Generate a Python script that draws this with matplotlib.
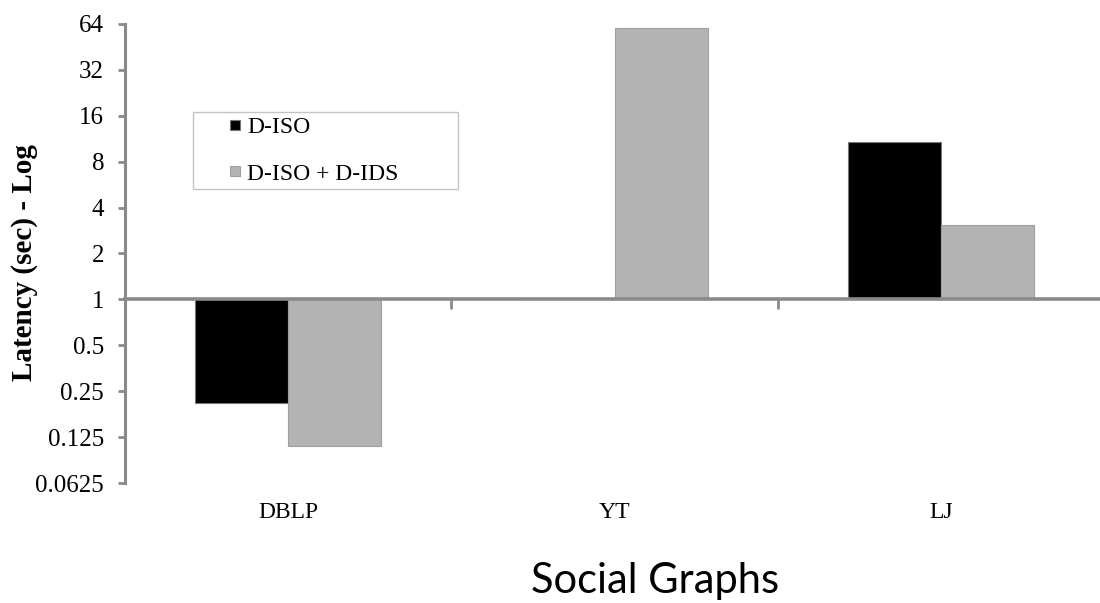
import numpy as np
import matplotlib
matplotlib.use("Agg")
import matplotlib.pyplot as plt
from matplotlib.patches import Rectangle
from matplotlib.legend_handler import HandlerPatch

graphs = ["DBLP", "YT", "LJ"]
d_iso = [0.208, 1.0, 10.7]
d_iso_ids = [0.109, 60.0, 3.06]
series_names = ["D-ISO", "D-ISO + D-IDS"]
y_ticks = [0.0625, 0.125, 0.25, 0.5, 1, 2, 4, 8, 16, 32, 64]
y_tick_labels = ["0.0625", "0.125", "0.25", "0.5", "1", "2", "4", "8", "16", "32", "64"]

AXIS_GREY = "#8a8a8a"
BAR_GREY = "#b3b3b3"
SERIF = "Liberation Serif"


def small_square(legend, orig_handle, xdescent, ydescent, width, height, fontsize):
    # little square pushed to the right edge of the handle box
    s = 0.42 * fontsize
    return Rectangle((width - xdescent - s, -ydescent + (height - s) / 2), s, s)


fig = plt.figure(figsize=(11, 6.03), dpi=100)
ax = fig.add_axes([125 / 1100, 1 - 483 / 603, 979 / 1100, 459 / 603])

x = np.arange(len(graphs))
w = 0.285
base = 1.0
ax.set_yscale("log", base=2)
ax.set_ylim(y_ticks[0], y_ticks[-1])
ax.set_xlim(-0.5, len(graphs) - 0.5)

b1 = ax.bar(x - w / 2, np.array(d_iso) - base, w, bottom=base, color="black",
            edgecolor="#777777", linewidth=0.8, zorder=1)
b2 = ax.bar(x + w / 2, np.array(d_iso_ids) - base, w, bottom=base, color=BAR_GREY,
            edgecolor="#a0a0a0", linewidth=0.8, zorder=1)

# y axis
ax.set_yticks(y_ticks)
ax.set_yticklabels(y_tick_labels)
ax.yaxis.set_minor_locator(matplotlib.ticker.NullLocator())
ax.tick_params(axis="y", length=5, width=2, color=AXIS_GREY, pad=10,
               labelsize=18)
for lab in ax.get_yticklabels():
    lab.set_family(SERIF)

for side in ["top", "right", "bottom"]:
    ax.spines[side].set_visible(False)
ax.spines["left"].set_color(AXIS_GREY)
ax.spines["left"].set_linewidth(2.2)

# category labels sit under the plot area
ax.set_xticks(x)
ax.set_xticklabels(graphs)
ax.tick_params(axis="x", length=0, pad=14, labelsize=17)
for lab in ax.get_xticklabels():
    lab.set_family(SERIF)

# baseline at y = 1 with separator ticks between groups
ymin, ymax = ax.get_ylim()
base_loc = np.log2(base / ymin) / np.log2(ymax / ymin)
sec = ax.secondary_xaxis(base_loc)
sec.set_zorder(3)
sec.set_xticks(x[:-1] + 0.5)
sec.tick_params(length=7, width=2, color=AXIS_GREY, labelbottom=False)
sec.spines["bottom"].set_color(AXIS_GREY)
sec.spines["bottom"].set_linewidth(2.6)

leg = ax.legend([b1.patches[0], b2.patches[0]], series_names,
                loc="upper left", bbox_to_anchor=(0.0695, 0.0, 0.2707, 0.808),
                mode="expand", ncol=1, prop={"family": SERIF, "size": 17},
                frameon=True, fancybox=False, framealpha=1, edgecolor="#c4c4c4",
                borderpad=0.2, labelspacing=1.05, handlelength=1.8,
                handletextpad=0.3, borderaxespad=0,
                handler_map={Rectangle: HandlerPatch(patch_func=small_square)})
leg.get_frame().set_linewidth(1.0)
leg.set_zorder(5)

fig.text(25 / 1100, 1 - 263 / 603, "Latency (sec) - Log", rotation=90,
         ha="center", va="center", family=SERIF, weight="bold", fontsize=21)
fig.text(655 / 1100, 1 - 593 / 603, "Social Graphs", ha="center",
         va="baseline", family="Lato", fontsize=30)

fig.savefig("out.png", dpi=100)
